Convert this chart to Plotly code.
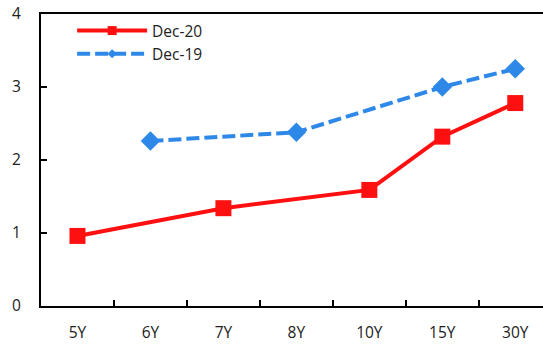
import plotly.graph_objects as go

categories = ["5Y", "6Y", "7Y", "8Y", "10Y", "15Y", "30Y"]
dec20 = [0.96, None, 1.34, None, 1.59, 2.32, 2.78]
dec19 = [None, 2.26, None, 2.38, None, 3.00, 3.25]

RED = "#FF1010"
BLUE = "#2E88E8"
DASH = "13px,5px"

fig = go.Figure()
fig.add_trace(go.Scatter(
    x=categories, y=dec20, name="Dec-20", mode="lines+markers", connectgaps=True,
    showlegend=False,
    line=dict(color=RED, width=4),
    marker=dict(symbol="square", size=16, color=RED),
))
fig.add_trace(go.Scatter(
    x=categories, y=dec19, name="Dec-19", mode="lines+markers", connectgaps=True,
    showlegend=False,
    line=dict(color=BLUE, width=4, dash=DASH),
    marker=dict(symbol="diamond", size=15, color=BLUE),
))
# legend entries (smaller markers, as in the reference legend)
fig.add_trace(go.Scatter(
    x=[None], y=[None], name="Dec-20", mode="lines+markers",
    line=dict(color=RED, width=4),
    marker=dict(symbol="square", size=9, color=RED),
))
fig.add_trace(go.Scatter(
    x=[None], y=[None], name="Dec-19", mode="lines+markers",
    line=dict(color=BLUE, width=4, dash=DASH),
    marker=dict(symbol="diamond", size=7, color=BLUE),
))

fig.update_layout(
    width=543, height=344,
    margin=dict(l=41, r=0, t=14, b=38),
    plot_bgcolor="white", paper_bgcolor="white",
    font=dict(family="Open Sans", size=15.5, color="#222"),
    showlegend=True,
    legend=dict(x=0.062, y=1.0, xanchor="left", yanchor="top",
                bgcolor="rgba(0,0,0,0)", itemwidth=70,
                font=dict(size=15.5), tracegroupgap=0),
    xaxis=dict(type="category", range=[-0.5, 6.38], showline=True, linecolor="black",
               linewidth=2, mirror=True, ticks="inside", tickson="boundaries",
               ticklen=6, tickwidth=2, tickcolor="black", showgrid=False,
               automargin=False, ticklabelstandoff=11),
    yaxis=dict(range=[0, 4], dtick=1, showline=True, linecolor="black", linewidth=2,
               mirror=True, ticks="inside", ticklen=6, tickwidth=2, tickcolor="black",
               showgrid=False, zeroline=False, automargin=False, ticklabelstandoff=15),
)

fig.write_html("out.html", config={"displayModeBar": False},
               post_script="document.body.style.margin='0';")
